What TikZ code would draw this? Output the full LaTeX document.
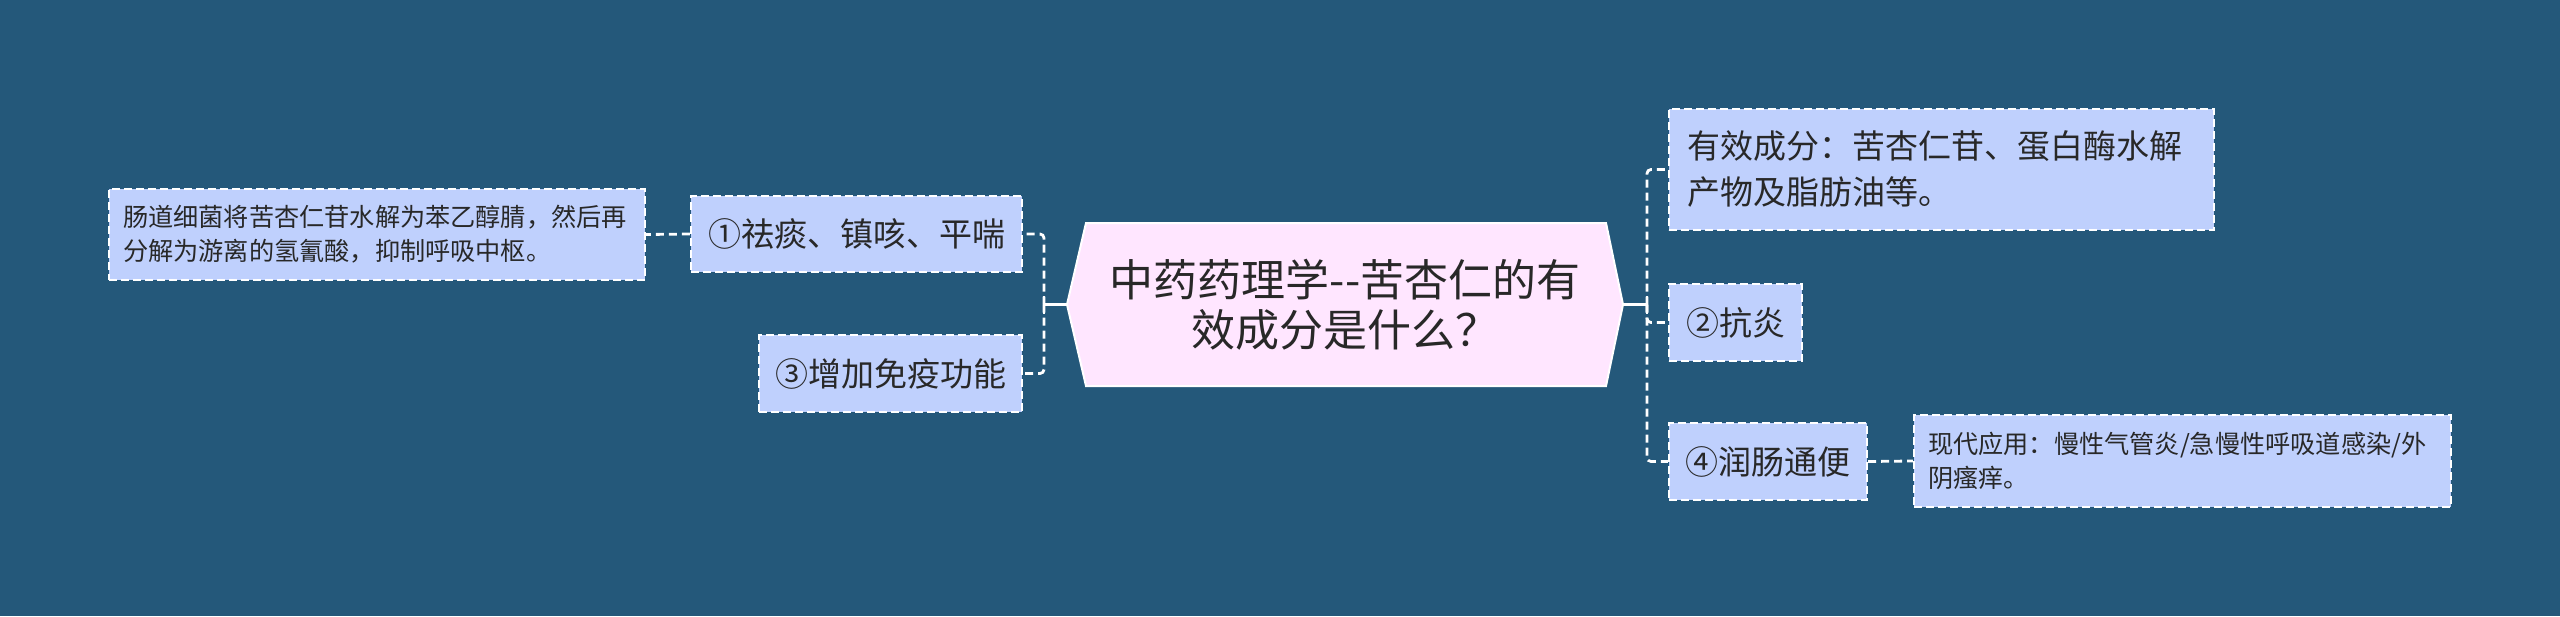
\documentclass[tikz,border=0pt]{standalone}
\usepackage{fontspec}
\setmainfont{Noto Sans CJK SC}
\definecolor{bgblue}{RGB}{36,88,122}
\definecolor{boxblue}{RGB}{191,208,253}
\definecolor{rootpink}{RGB}{255,230,255}
\definecolor{ink}{RGB}{40,40,40}

\begin{document}
\begin{tikzpicture}[x=0.5pt, y=-0.5pt,
    box/.style={draw=white, fill=boxblue, line width=1.1pt, dash pattern=on 4pt off 2pt,
      text=ink, font=\fontsize{16.5}{23}\selectfont, inner sep=0pt, align=center},
    leaf/.style={box, font=\fontsize{12.6}{17}\selectfont, align=left},
    link/.style={draw=white, line width=1.4pt, dash pattern=on 4pt off 2.5pt, rounded corners=2pt},
    stub/.style={draw=white, line width=1.4pt}]
         \fill[bgblue] (0,0) rectangle (2560,616);
         % root
         \coordinate (CL) at (1067,304.5);
         \coordinate (CR) at (1623,304.5);
         \filldraw[fill=rootpink, draw=white, line width=1pt] (CL) -- (1086,223) -- (1606,223) -- (CR) -- (1606,386) -- (1086,386) -- cycle;
         \node[text=ink, font=\fontsize{22}{25}\selectfont, align=center] (C) at (1345,304.5) {中药药理学-\kern0pt-苦杏仁的有\\效成分是什么？};
         % left side
         \node[box, minimum width=165.5pt, minimum height=38pt] (L1) at (856.5,234) {①祛痰、镇咳、平喘};
         \node[box, minimum width=131.5pt, minimum height=38.5pt] (L3) at (890.5,373.5) {③增加免疫功能};
         \node[leaf, text width=254pt, inner xsep=7pt, minimum height=45.5pt] (LL) at (377,234.5) {肠道细菌将苦杏仁苷水解为苯乙醇腈，然后再\\分解为游离的氢氰酸，抑制呼吸中枢。};
         % right side
         \node[box, align=left, text width=254.5pt, inner xsep=9pt, minimum height=60.5pt] (R0) at (1941.5,169.5) {有效成分：苦杏仁苷、蛋白酶水解\\产物及脂肪油等。};
         \node[box, minimum width=66.5pt, minimum height=38.5pt] (R2) at (1735.5,322.5) {②抗炎};
         \node[box, minimum width=99pt, minimum height=38.5pt] (R4) at (1768,461.5) {④润肠通便};
         \node[leaf, text width=254.5pt, inner xsep=7pt, minimum height=46pt] (RL) at (2182.5,461) {现代应用：慢性气管炎/急慢性呼吸道感染/外\\阴瘙痒。};
         % connectors
         \coordinate (JL) at (1044,304.5);
         \coordinate (JR) at (1647,304.5);
         \draw[stub] (CL) -- (JL);
         \draw[stub] ([yshift=-4.5pt]JL) -- ([yshift=4.5pt]JL);
         \draw[link] (JL) |- (L1.east);
         \draw[link] (JL) |- (L3.east);
         \draw[link] (L1.west) -- (LL.east);
         \draw[stub] (CR) -- (JR);
         \draw[stub] ([yshift=-4.5pt]JR) -- ([yshift=4.5pt]JR);
         \draw[link] (JR) |- (R0.west);
         \draw[link] (JR) |- (R2.west);
         \draw[link] (JR) |- (R4.west);
         \draw[link] (R4.east) -- (RL.west);
\end{tikzpicture}
\end{document}
